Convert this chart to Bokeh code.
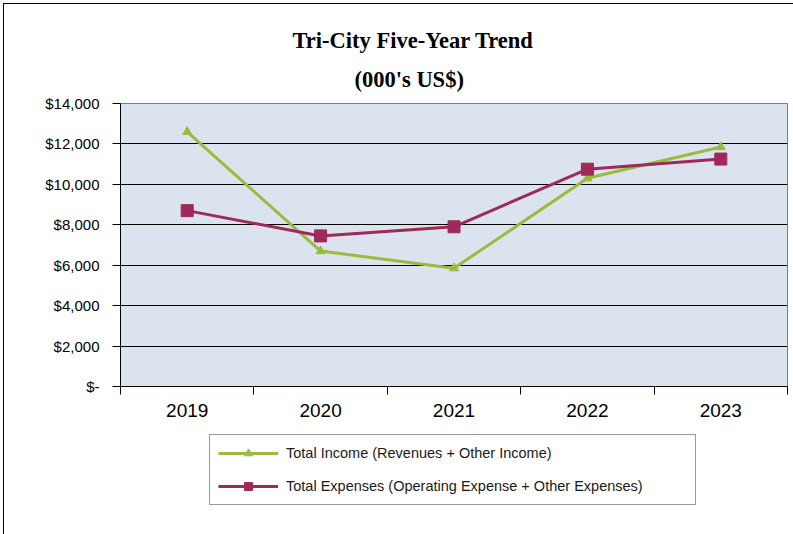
from bokeh.plotting import figure
from bokeh.layouts import column
from bokeh.models import Range1d, FixedTicker, Legend, LegendItem, Title
from bokeh.embed import file_html
from bokeh.resources import INLINE

# ---- data ----
years = ["2019", "2020", "2021", "2022", "2023"]
income = [12600, 6700, 5850, 10300, 11850]
expenses = [8700, 7450, 7900, 10750, 11250]
y_ticks = [0, 2000, 4000, 6000, 8000, 10000, 12000, 14000]
y_tick_labels = ["$-", "$2,000", "$4,000", "$6,000", "$8,000", "$10,000", "$12,000", "$14,000"]
title_line1 = "Tri-City Five-Year Trend"
title_line2 = "(000's US$)"
income_label = "Total Income (Revenues + Other Income)"
expense_label = "Total Expenses (Operating Expense + Other Expenses)"

income_color = "#9bbb3c"
expense_color = "#9e2a5c"

x = list(range(len(years)))

p = figure(frame_width=667, frame_height=283, output_backend="svg",
           toolbar_location=None, title=None,
           x_range=Range1d(-0.5, len(years) - 0.5), y_range=Range1d(0, 14000),
           min_border_left=116, min_border_right=6, min_border_top=99,
           min_border_bottom=40)

p.background_fill_color = "#dbe3ee"
p.border_fill_color = "white"
p.outline_line_color = "#7f7f7f"

# titles (later added goes further out)
p.add_layout(Title(text=title_line2, align="left", offset=234, standoff=24,
                   text_font="Liberation Serif", text_font_style="bold",
                   text_font_size="22.5px", text_color="black"), "above")
p.add_layout(Title(text=title_line1, align="left", offset=172, standoff=0,
                   text_font="Liberation Serif", text_font_style="bold",
                   text_font_size="22.5px", text_color="black"), "above")

# lines
l1 = p.line(x, income, line_color=income_color, line_width=3)
m1 = p.scatter(x, income, marker="triangle", size=9, fill_color=income_color,
               line_color=income_color)
l2 = p.line(x, expenses, line_color=expense_color, line_width=3)
m2 = p.scatter(x, expenses, marker="square", size=12, fill_color=expense_color,
               line_color=expense_color)

# x axis
xa = p.xaxis[0]
xa.ticker = FixedTicker(ticks=x, minor_ticks=[i - 0.5 for i in range(len(years) + 1)])
xa.major_label_overrides = {i: y for i, y in zip(x, years)}
xa.major_tick_out = 0
xa.major_tick_in = 0
xa.minor_tick_out = 8
xa.minor_tick_in = 0
xa.minor_tick_line_color = "black"
xa.axis_line_color = "black"
xa.major_label_standoff = 9
xa.major_label_text_font = "Liberation Sans"
xa.major_label_text_font_size = "19px"
xa.major_label_text_color = "black"

# y axis
ya = p.yaxis[0]
ya.ticker = FixedTicker(ticks=y_ticks, minor_ticks=[])
ya.major_label_overrides = {t: s for t, s in zip(y_ticks, y_tick_labels)}
ya.major_tick_out = 8
ya.major_tick_in = 0
ya.major_tick_line_color = "black"
ya.axis_line_color = "black"
ya.major_label_standoff = 13
ya.major_label_text_font = "Liberation Sans"
ya.major_label_text_font_size = "15px"
ya.major_label_text_color = "black"

p.xgrid.visible = False
p.ygrid.grid_line_color = "black"
p.ygrid.grid_line_width = 1
p.ygrid.ticker = FixedTicker(ticks=y_ticks)

# ---- legend strip below the chart ----
# the strip's y range is far away from the data, so its copies of the series
# stay out of view and only serve as legend samples
p2 = figure(width=789, height=108, output_backend="svg", toolbar_location=None,
            title=None, x_range=Range1d(0, 1), y_range=Range1d(-2, -1),
            min_border=0)
p2.axis.visible = False
p2.grid.visible = False
p2.outline_line_color = None
p2.background_fill_color = "white"
p2.border_fill_color = "white"

lg1 = p2.line(x, income, line_color=income_color, line_width=3)
lm1 = p2.scatter(x, income, marker="triangle", size=9, fill_color=income_color,
                 line_color=income_color)
lg2 = p2.line(x, expenses, line_color=expense_color, line_width=3)
lm2 = p2.scatter(x, expenses, marker="square", size=12, fill_color=expense_color,
                 line_color=expense_color)

legend = Legend(items=[LegendItem(label=income_label, renderers=[lg1, lm1]),
                       LegendItem(label=expense_label, renderers=[lg2, lm2])],
                location=(89, 29), orientation="vertical",
                padding=8, spacing=13, margin=0,
                glyph_width=60, glyph_height=20, label_height=20,
                label_standoff=8, label_width=401,
                label_text_font="Liberation Sans", label_text_font_size="14.5px",
                label_text_color="#1a1a1a",
                border_line_color="#333333", border_line_width=1,
                background_fill_color="white")
p2.add_layout(legend)

lay = column(p, p2, spacing=0,
             styles={"border-left": "1px solid #000", "border-top": "1px solid #000",
                     "margin-left": "3px", "margin-top": "3px"})

open("out.html", "w").write(file_html(lay, INLINE))
